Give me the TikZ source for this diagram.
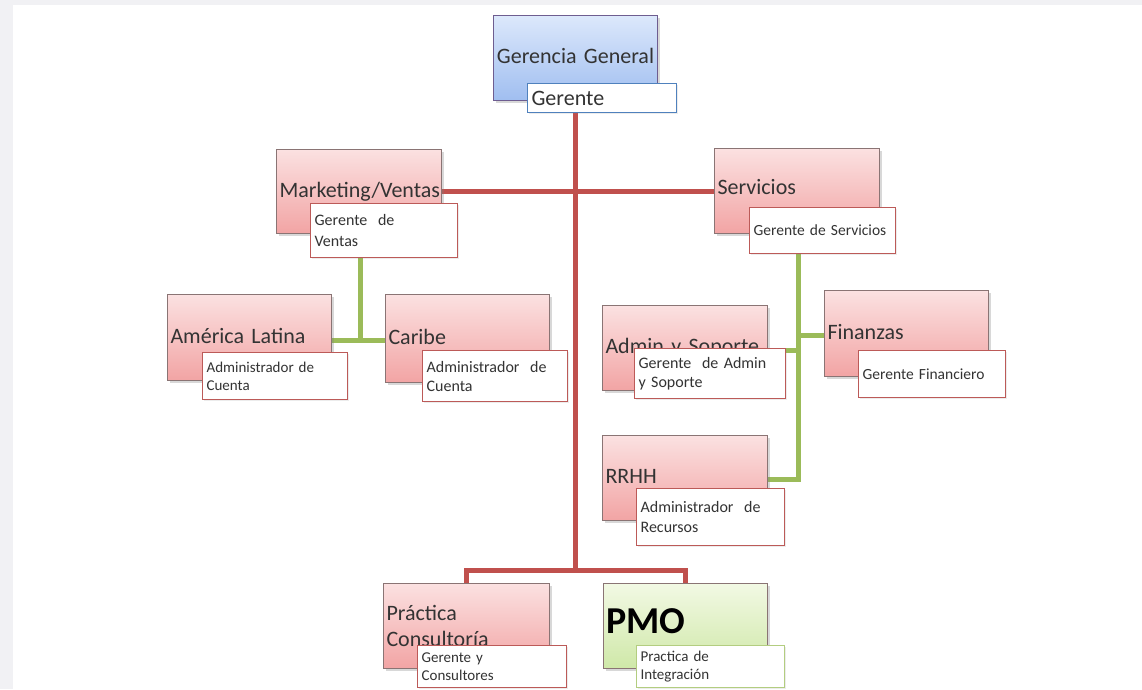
\documentclass[tikz,border=0pt]{standalone}
\usepackage{fontspec}
\setmainfont{Carlito}
\usetikzlibrary{shadows,backgrounds}
\definecolor{redline}{HTML}{C0504D}
\definecolor{greenline}{HTML}{9BBB59}
\definecolor{pinktop}{HTML}{FBE1E1}
\definecolor{pinkbot}{HTML}{F2A4A4}
\definecolor{bluetop}{HTML}{DCE8FB}
\definecolor{bluebot}{HTML}{A0BEF0}
\definecolor{greentop}{HTML}{F2F9E4}
\definecolor{greenbot}{HTML}{CFE8A8}
\definecolor{boxborder}{HTML}{8A7474}
\definecolor{subred}{HTML}{BC5A58}
\definecolor{subblue}{HTML}{4F81BD}
\definecolor{subgreen}{HTML}{B3CD80}
\definecolor{txt}{HTML}{333333}
\definecolor{framegray}{HTML}{F1F1F4}
\tikzset{
  rline/.style={draw=redline, line width=5pt},
  gline/.style={draw=greenline, line width=5pt},
  bigbox/.style={draw=boxborder, line width=1pt, top color=pinktop, bottom color=pinkbot,
    anchor=north west, align=left, inner xsep=3pt, inner ysep=0pt, text=txt,
    font=\fontsize{22}{26}\selectfont,
    drop shadow={shadow xshift=2pt, shadow yshift=-2pt, opacity=0.3}},
  subbox/.style={draw=subred, line width=1.2pt, fill=white, anchor=north west, align=left,
    inner xsep=4pt, inner ysep=0pt, text=txt, font=\fontsize{15}{18}\selectfont,
    drop shadow={shadow xshift=1.5pt, shadow yshift=-1.5pt, opacity=0.15}},
}
\begin{document}
\begin{tikzpicture}[x=1pt,y=-1pt]
\useasboundingbox (0,0) rectangle (1142,689);

% Gerencia General
\node[bigbox, top color=bluetop, bottom color=bluebot, draw=boxborder!80!blue,
  minimum width=164, minimum height=85, align=center, text width=158] (ger) at (493,15) {\raisebox{4pt}{Gerencia General}};
\node[subbox, draw=subblue, text width=141, minimum height=29, font=\fontsize{22}{24}\selectfont] (gersub) at (527,83) {Gerente};

% Marketing/Ventas
\node[bigbox, text width=159, minimum height=84] (mkt) at (276,149) {Marketing/Ventas};
\node[subbox, text width=139, minimum height=54, font=\fontsize{16}{21}\selectfont] (mksub) at (310,203) {Gerente~~de\\Ventas};

% Servicios
\node[bigbox, text width=159, minimum height=85] (serv) at (714,148) {\raisebox{8pt}{Servicios}};
\node[subbox, text width=138, minimum height=46, font=\fontsize{15.5}{18}\selectfont] (svsub) at (749,207) {Gerente de Servicios};

% América Latina
\node[bigbox, text width=158, minimum height=86] (amer) at (167,294) {\raisebox{4pt}{América Latina}};
\node[subbox, text width=137, minimum height=47] (amsub) at (202,352) {Administrador de\\Cuenta};

% Caribe
\node[bigbox, text width=158, minimum height=88] (carib) at (385,294) {\raisebox{4pt}{Caribe}};
\node[subbox, text width=137, minimum height=51, font=\fontsize{16}{19}\selectfont] (casub) at (422,350) {Administrador~~de\\Cuenta};

% Admin y Soporte
\node[bigbox, text width=159, minimum height=85] (adm) at (602,305) {Admin y Soporte};
\node[subbox, text width=143, minimum height=50, font=\fontsize{16}{19}\selectfont] (admsub) at (634,348) {Gerente~~de~Admin\\y Soporte};

% Finanzas
\node[bigbox, text width=158, minimum height=86] (fin) at (824,290) {\raisebox{4pt}{Finanzas}};
\node[subbox, text width=139, minimum height=47, font=\fontsize{15.5}{18}\selectfont] (finsub) at (858,350) {Gerente Financiero};

% RRHH
\node[bigbox, text width=159, minimum height=85] (rrhh) at (602,435) {\raisebox{4pt}{RRHH}};
\node[subbox, text width=140, minimum height=57, font=\fontsize{16}{20}\selectfont] (rrsub) at (636,488) {Administrador~~de\\Recursos};

% Práctica Consultoría
\node[bigbox, text width=160, minimum height=85] (prac) at (383,583) {Práctica\\Consultoría};
\node[subbox, text width=141, minimum height=42] (prsub) at (417,645) {Gerente y\\Consultores};

% PMO
\node[bigbox, top color=greentop, bottom color=greenbot, text width=158, minimum height=85,
  font=\fontsize{38}{40}\selectfont\bfseries, text=black] (pmo) at (603,583) {\raisebox{10pt}{PMO}};
\node[subbox, draw=subgreen, text width=140, minimum height=42] (pmsub) at (636,645) {Practica de\\Integración};

% bend points
\coordinate (rv) at (575,570);
\coordinate (gm) at (360,340);
\coordinate (gs) at (798,479);
\coordinate (ga) at (798,350);
\coordinate (gf) at (798,335);

\begin{scope}[on background layer]
\fill[framegray] (0,0) rectangle (1142,689);
\fill[white] (13,5) rectangle (1142,689);
\draw[rline] (rv |- gersub.south) -- (rv);
\draw[rline] (mkt.east) -- (mkt.east -| serv.west);
\draw[rline] (prac.north) -- (prac.north |- rv) -- (pmo.north |- rv) -- (pmo.north);
\draw[gline] (gm |- mksub.south) -- (gm);
\draw[gline] (amer.east |- gm) -- (carib.west |- gm);
\draw[gline] (gs |- svsub.south) -- (gs) -- (rrhh.east |- gs);
\draw[gline] (admsub.east |- ga) -- (ga);
\draw[gline] (gf) -- (fin.west |- gf);
\end{scope}
\end{tikzpicture}
\end{document}
